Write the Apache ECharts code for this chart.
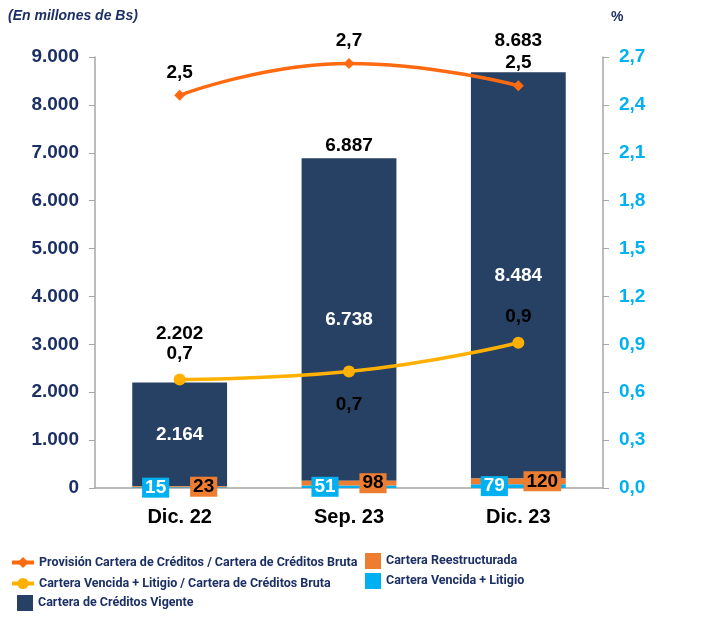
<!DOCTYPE html>
<html>
<head>
<meta charset="utf-8">
<script src="https://cdn.jsdelivr.net/npm/echarts@6/dist/echarts.min.js"></script>
<style>
  html, body { margin: 0; padding: 0; background: #fff; }
  #chart { width: 722px; height: 617px; }
</style>
</head>
<body>
<div id="chart"></div>
<script>
const categories = ["Dic. 22", "Sep. 23", "Dic. 23"];
const vencida = [15, 51, 79];
const reestructurada = [23, 98, 120];
const vigente = [2164, 6738, 8484];
const totales = [2202, 6887, 8683];
const provisionRatio = [2.46, 2.66, 2.52];
const vencidaRatio = [0.68, 0.73, 0.91];
const leftTicks = { min: 0, max: 9000, interval: 1000 };
const rightTicks = { min: 0, max: 2.7, interval: 0.3 };

const navy = "#1c3066";
const font = "Liberation Sans, Arial, sans-serif";

function miles(v) {
  return String(Math.round(v)).replace(/\B(?=(\d{3})+(?!\d))/g, ".");
}
function coma(v) {
  return v.toFixed(1).replace(".", ",");
}

const labelFont = { fontFamily: font, fontWeight: "bold", fontSize: 19, color: "#000" };

const chart = echarts.init(document.getElementById("chart"));

const legendText = { color: navy, fontFamily: "Roboto, sans-serif", fontWeight: "bold", fontSize: 12.5 };
function legendAt(name, left, top, w, h, isBar) {
  const lg = {
    data: [name], left: left, top: top, itemWidth: w, itemHeight: h,
    itemGap: 0, padding: 0, textStyle: legendText, selectedMode: false,
  };
  if (isBar) lg.icon = "rect";
  else lg.lineStyle = { width: 4 };
  return lg;
}

const option = {
  animation: false,
  title: [
    {
      text: "(En millones de Bs)", left: 8, top: 9, padding: 0,
      textStyle: { fontFamily: font, fontStyle: "italic", fontWeight: "bold", fontSize: 14, color: navy },
    },
    {
      text: "%", left: 611, top: 10, padding: 0,
      textStyle: { fontFamily: font, fontWeight: "bold", fontSize: 14, color: navy },
    },
  ],
  legend: [
    legendAt("Provisión Cartera de Créditos / Cartera de Créditos Bruta", 10, 556, 22, 14, false),
    legendAt("Cartera Vencida + Litigio / Cartera de Créditos Bruta", 10, 577, 22, 14, false),
    legendAt("Cartera de Créditos Vigente", 17, 595, 16, 16, true),
    legendAt("Cartera Reestructurada", 365, 553, 16, 16, true),
    legendAt("Cartera Vencida + Litigio", 365, 573, 16, 16, true),
  ],
  grid: { left: 95, right: 119, top: 57, bottom: 129 },
  xAxis: {
    type: "category",
    data: categories,
    axisTick: { show: false },
    axisLine: { lineStyle: { color: "#a6a6a6", width: 1.5 } },
    axisLabel: { margin: 19, ...labelFont, fontSize: 20 },
  },
  yAxis: [
    {
      type: "value", ...leftTicks,
      splitLine: { show: false },
      axisLine: { show: true, lineStyle: { color: "#a6a6a6", width: 1.5 } },
      axisTick: { show: true, length: 6, lineStyle: { color: "#a6a6a6" } },
      axisLabel: { margin: 16, formatter: miles, fontFamily: font, fontWeight: "bold", fontSize: 19, color: navy },
    },
    {
      type: "value", ...rightTicks,
      splitLine: { show: false },
      axisLine: { show: true, lineStyle: { color: "#a6a6a6", width: 1.5 } },
      axisTick: { show: true, length: 6, lineStyle: { color: "#a6a6a6" } },
      axisLabel: { margin: 16, formatter: coma, fontFamily: font, fontWeight: "bold", fontSize: 19, color: "#00b0f0" },
    },
  ],
  series: [
    {
      name: "Cartera Vencida + Litigio",
      type: "bar", stack: "cartera", barWidth: "56%", z: 3,
      itemStyle: { color: "#00b0f0" },
      label: {
        show: true, position: "inside", offset: [-24, 0], ...labelFont, color: "#fff",
        backgroundColor: "#00b0f0", padding: [1, 3, 0, 3],
      },
      data: vencida,
    },
    {
      name: "Cartera Reestructurada",
      type: "bar", stack: "cartera", z: 3,
      itemStyle: { color: "#ed7d31" },
      label: {
        show: true, position: "inside", offset: [24, 0], ...labelFont, color: "#000",
        backgroundColor: "#ed7d31", padding: [1, 3, 0, 3],
      },
      data: reestructurada,
    },
    {
      name: "Cartera de Créditos Vigente",
      type: "bar", stack: "cartera",
      itemStyle: { color: "#264163" },
      label: { show: true, position: "inside", ...labelFont, color: "#fff", formatter: (p) => miles(p.value) },
      data: vigente,
    },
    {
      name: "totales",
      type: "scatter", symbolSize: 0, z: 5,
      itemStyle: { opacity: 1 },
      label: { show: true, position: "top", distance: 3, ...labelFont, formatter: (p) => miles(p.value) },
      data: totales.map((v, i) => ({
        value: v,
        label: { offset: [0, [-36, 0, -19][i]] },
      })),
    },
    {
      name: "Provisión Cartera de Créditos / Cartera de Créditos Bruta",
      type: "line", yAxisIndex: 1, smooth: true, z: 6,
      symbol: "diamond", symbolSize: 11,
      lineStyle: { color: "#ff6a10", width: 3.5 },
      itemStyle: { color: "#ff6a10" },
      label: { show: true, position: "top", distance: 8, ...labelFont, formatter: (p) => coma(p.value) },
      data: provisionRatio,
    },
    {
      name: "Cartera Vencida + Litigio / Cartera de Créditos Bruta",
      type: "line", yAxisIndex: 1, smooth: true, z: 6,
      symbol: "circle", symbolSize: 12,
      lineStyle: { color: "#ffb000", width: 3.5 },
      itemStyle: { color: "#ffb000" },
      label: { show: true, position: "top", distance: 10, ...labelFont, formatter: (p) => coma(p.value) },
      data: vencidaRatio.map((v, i) => (i === 1
        ? { value: v, label: { position: "bottom", distance: 18 } }
        : v)),
    },
  ],
};

chart.setOption(option);
</script>
</body>
</html>
